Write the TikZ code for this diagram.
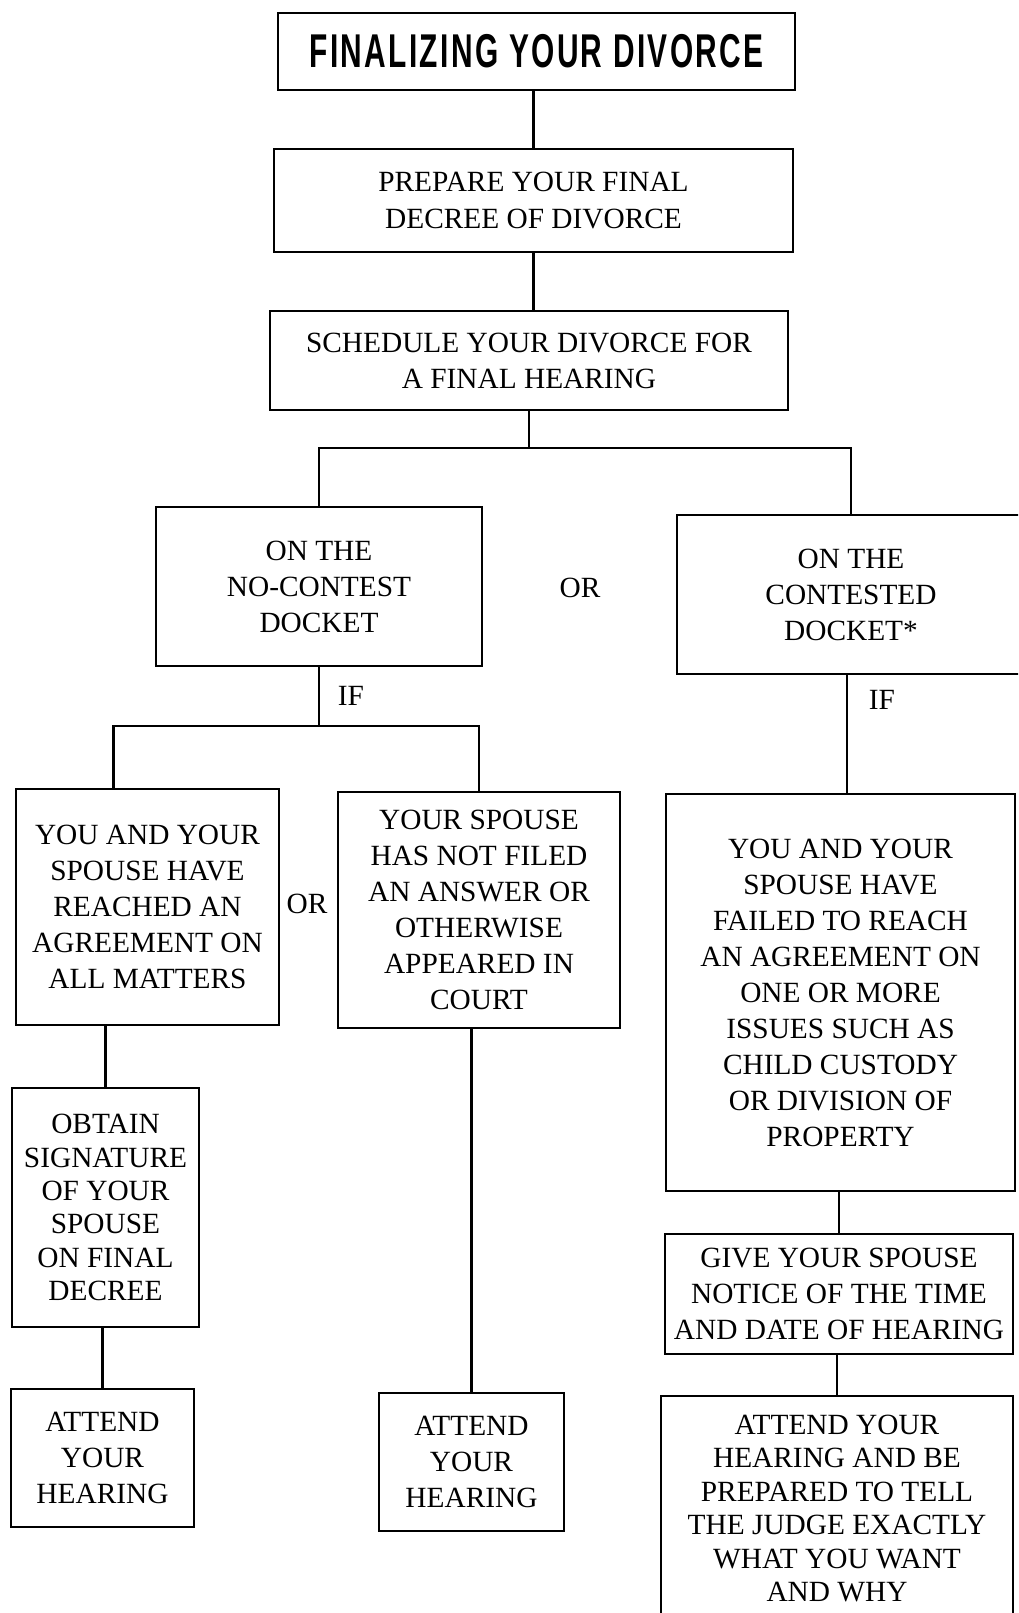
\documentclass[tikz,border=0pt]{standalone}
\usepackage{fontspec}
\setmainfont{Liberation Serif}
\newfontfamily\titlefont[FakeStretch=0.63,LetterSpace=5]{Liberation Sans}
\usetikzlibrary{positioning,calc}

\begin{document}
\begin{tikzpicture}[x=0.02cm, y=-0.02cm,
  box/.style={draw, line width=1.4pt, align=center, inner sep=2pt, font=\fontsize{16.7}{20.5}\selectfont},
  tight/.style={font=\fontsize{16.7}{19}\selectfont},
  lbl/.style={inner sep=1pt, font=\fontsize{16.7}{20.5}\selectfont},
  link/.style={line width=1.4pt}]
  \path[use as bounding box, fill=white] (0,0) rectangle (1018,1613);
  \clip (0,0) rectangle (1018,1613);
  % top of the chart
  \node[box, minimum width=10.34cm, minimum height=1.54cm, font=\titlefont\bfseries\fontsize{27}{30}\selectfont] (title) at (536.5,51.5) {FINALIZING YOUR DIVORCE};
  \node[box, minimum width=10.38cm, minimum height=2.06cm] (prep) at (533.5,200.5) {PREPARE YOUR FINAL\\DECREE OF DIVORCE};
  \node[box, minimum width=10.36cm, minimum height=1.98cm] (sched) at (529,360.5) {SCHEDULE YOUR DIVORCE FOR\\A FINAL HEARING};
  % the two dockets
  \node[box, minimum width=6.52cm, minimum height=3.18cm] (nocont) at (319,586.5) {ON THE\\NO-CONTEST\\DOCKET};
  \node[box, minimum width=6.96cm, minimum height=3.18cm] (cont) at (851,594.5) {ON THE\\CONTESTED\\DOCKET*};
  % no-contest side
  \node[box, minimum width=5.26cm, minimum height=4.72cm] (agree) at (147.5,907) {YOU AND YOUR\\SPOUSE HAVE\\REACHED AN\\AGREEMENT ON\\ALL MATTERS};
  \node[box, minimum width=5.64cm, minimum height=4.72cm] (nofile) at (479,910) {YOUR SPOUSE\\HAS NOT FILED\\AN ANSWER OR\\OTHERWISE\\APPEARED IN\\COURT};
  \node[box, tight, minimum width=3.74cm, minimum height=4.78cm] (sign) at (105.5,1207.5) {OBTAIN\\SIGNATURE\\OF YOUR\\SPOUSE\\ON FINAL\\DECREE};
  \node[box, minimum width=3.66cm, minimum height=2.76cm] (attL) at (102.5,1458) {ATTEND\\YOUR\\HEARING};
  \node[box, minimum width=3.7cm, minimum height=2.76cm] (attM) at (471.5,1462) {ATTEND\\YOUR\\HEARING};
  % contested side
  \node[box, minimum width=6.98cm, minimum height=7.94cm] (failed) at (840.5,992.5) {YOU AND YOUR\\SPOUSE HAVE\\FAILED TO REACH\\AN AGREEMENT ON\\ONE OR MORE\\ISSUES SUCH AS\\CHILD CUSTODY\\OR DIVISION OF\\PROPERTY};
  \node[box, minimum width=6.96cm, minimum height=2.4cm] (notice) at (839,1294) {GIVE YOUR SPOUSE\\NOTICE OF THE TIME\\AND DATE OF HEARING};
  \node[box, tight, minimum width=7.04cm, minimum height=4.5cm] (prepd) at (837,1508.5) {ATTEND YOUR\\HEARING AND BE\\PREPARED TO TELL\\THE JUDGE EXACTLY\\WHAT YOU WANT\\AND WHY};
  % OR / IF words
  \foreach \x/\y/\t/\n in {580/588/OR/or1, 351/696/IF/if1, 882/700/IF/if2, 307/904/OR/or2}
    \node[lbl] (\n) at (\x,\y) {\t};
  % connectors
  \coordinate (fork1) at (529,448);
  \coordinate (fork2) at (319,726);
  \draw[link] (prep.north) -- (prep.north |- title.south);
  \draw[link] (prep.south) -- (prep.south |- sched.north);
  \draw[link] (sched.south) -- (fork1);
  \draw[link] (nocont.north) |- (fork1) -| (cont.north);
  \draw[link] (nocont.south) -- (fork2);
  \draw[link] ([xshift=-0.68cm]agree.north) |- (fork2) -| (nofile.north);
  \draw[link] (sign.north) -- (sign.north |- agree.south);
  \draw[link] (attL.north) -- (attL.north |- sign.south);
  \draw[link] (attM.north) -- (attM.north |- nofile.south);
  \draw[link] ([xshift=-0.08cm]cont.south) -- ([xshift=-0.08cm]cont.south |- failed.north);
  \draw[link] (notice.north) -- (notice.north |- failed.south);
  \draw[link] (prepd.north) -- (prepd.north |- notice.south);
\end{tikzpicture}
\end{document}
